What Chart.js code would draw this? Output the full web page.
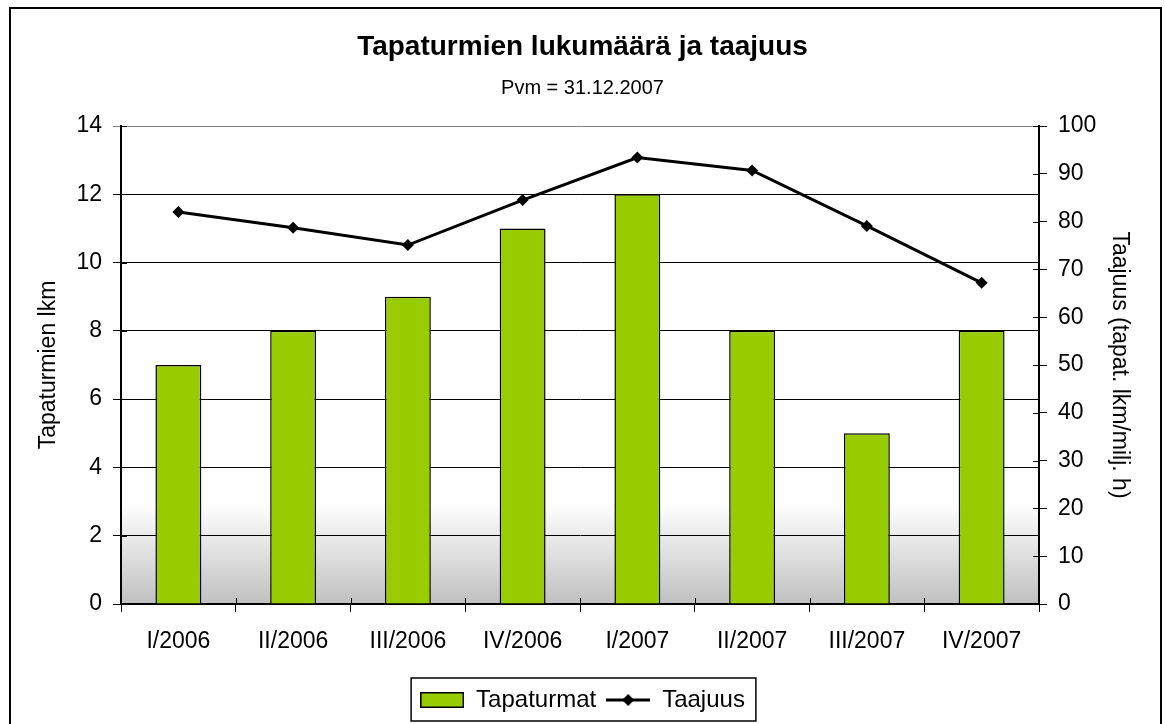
<!DOCTYPE html>
<html>
<head>
<meta charset="utf-8">
<script src="https://cdn.jsdelivr.net/npm/chart.js@4.4.0/dist/chart.umd.min.js"></script>
<style>
  body { margin: 0; background: #fff; }
</style>
</head>
<body>
<canvas id="accidentChart" width="1165" height="724"></canvas>
<script>
const quarters = ['I/2006', 'II/2006', 'III/2006', 'IV/2006', 'I/2007', 'II/2007', 'III/2007', 'IV/2007'];
const tapaturmat = [7, 8, 9, 11, 12, 8, 5, 8];
const taajuus = [82.0, 78.7, 75.1, 84.5, 93.4, 90.7, 79.1, 67.2];

const FONT = "'Liberation Sans', Arial, sans-serif";
const GREEN = '#99CC00';

// legend samples
function makeSwatch() {
    const c = document.createElement('canvas');
    c.width = 44; c.height = 16;
    const g = c.getContext('2d');
    g.fillStyle = GREEN;
    g.fillRect(0, 0, 44, 16);
    g.strokeStyle = '#000';
    g.lineWidth = 1.5;
    g.strokeRect(0.75, 0.75, 42.5, 14.5);
    return c;
}
function makeLineSample() {
    const c = document.createElement('canvas');
    c.width = 44; c.height = 14;
    const g = c.getContext('2d');
    g.strokeStyle = '#000';
    g.lineWidth = 3;
    g.beginPath(); g.moveTo(0, 7); g.lineTo(44, 7); g.stroke();
    g.fillStyle = '#000';
    g.beginPath(); g.moveTo(22, 1); g.lineTo(28, 7); g.lineTo(22, 13); g.lineTo(16, 7); g.closePath(); g.fill();
    return c;
}
const swatch = makeSwatch();
const lineSample = makeLineSample();

// plot background, legend frame, outer frame, inner halves of ticks
const decorPlugin = {
    id: 'decor',
    beforeDraw(chart) {
        const {ctx, chartArea: a} = chart;
        const grad = ctx.createLinearGradient(0, a.top, 0, a.bottom);
        grad.addColorStop(0, '#ffffff');
        grad.addColorStop(0.79, '#ffffff');
        grad.addColorStop(1, '#c0c0c0');
        ctx.save();
        ctx.fillStyle = grad;
        ctx.fillRect(a.left, a.top, a.right - a.left, a.bottom - a.top);
        ctx.restore();
    },
    afterDraw(chart) {
        const ctx = chart.ctx;
        const a = chart.chartArea;
        ctx.save();
        ctx.strokeStyle = '#000';
        ctx.lineWidth = 1;
        // inner tick halves
        const y = chart.scales.y, y1 = chart.scales.y1;
        ctx.beginPath();
        y.ticks.forEach((t, i) => {
            const p = Math.round(y.getPixelForTick(i)) + 0.5;
            ctx.moveTo(a.left, p); ctx.lineTo(a.left + 6, p);
        });
        y1.ticks.forEach((t, i) => {
            const p = Math.round(y1.getPixelForTick(i)) + 0.5;
            ctx.moveTo(a.right - 6, p); ctx.lineTo(a.right, p);
        });
        const w = (a.right - a.left) / quarters.length;
        for (let i = 0; i <= quarters.length; i++) {
            const p = Math.round(a.left + i * w) + 0.5;
            ctx.moveTo(p, a.bottom); ctx.lineTo(p, a.bottom - 6);
        }
        ctx.stroke();

        // legend frame
        const boxes = chart.legend.legendHitBoxes;
        if (boxes && boxes.length) {
            const first = boxes[0], last = boxes[boxes.length - 1];
            const l = first.left - 9, r = last.left + last.width + 11;
            ctx.lineWidth = 1.5;
            ctx.strokeRect(l, chart.legend.top, r - l, 43);
        }
        // outer frame
        ctx.lineWidth = 2;
        ctx.strokeRect(10, 8, 1151, 740);
        ctx.restore();
    }
};

const ctx = document.getElementById('accidentChart');
new Chart(ctx, {
    data: {
        labels: quarters,
        datasets: [{
            type: 'bar',
            label: 'Tapaturmat',
            data: tapaturmat,
            yAxisID: 'y',
            backgroundColor: GREEN,
            borderColor: '#000',
            borderWidth: 1.5,
            barPercentage: 0.4,
            categoryPercentage: 1,
            order: 1
        }, {
            type: 'line',
            label: 'Taajuus',
            data: taajuus,
            yAxisID: 'y1',
            borderColor: '#000',
            borderWidth: 3,
            backgroundColor: '#000',
            pointStyle: 'rectRot',
            pointRadius: 6,
            pointBackgroundColor: '#000',
            pointBorderWidth: 0,
            tension: 0,
            fill: false,
            order: 0
        }]
    },
    options: {
        responsive: false,
        animation: false,
        layout: { padding: { left: 0, right: 0, top: 0, bottom: 2 } },
        plugins: {
            tooltip: { enabled: false },
            title: {
                display: true,
                text: 'Tapaturmien lukumäärä ja taajuus',
                color: '#000',
                font: { family: FONT, size: 28, weight: 'bold' },
                padding: { top: 30, bottom: 0 }
            },
            subtitle: {
                display: true,
                text: 'Pvm = 31.12.2007',
                color: '#000',
                font: { family: FONT, size: 20 },
                padding: { top: 12.4, bottom: 26 }
            },
            legend: {
                position: 'bottom',
                labels: {
                    color: '#000',
                    font: { family: FONT, size: 24 },
                    usePointStyle: true,
                    pointStyleWidth: 44,
                    padding: 10,
                    generateLabels: function () {
                        return [
                            { text: 'Tapaturmat', pointStyle: swatch, datasetIndex: 0, fontColor: '#000', lineWidth: 0 },
                            { text: 'Taajuus', pointStyle: lineSample, datasetIndex: 1, fontColor: '#000', lineWidth: 0 }
                        ];
                    }
                }
            }
        },
        scales: {
            x: {
                offset: true,
                afterFit: function (scale) { scale.height = 74; },
                grid: { display: true, drawOnChartArea: false, drawTicks: true, tickLength: 8, color: '#000', offset: true },
                border: { color: '#000', width: 2 },
                ticks: { color: '#000', font: { family: FONT, size: 23 }, padding: 16, maxRotation: 0 }
            },
            y: {
                position: 'left',
                min: 0,
                max: 14,
                afterFit: function (scale) { scale.width = 121; },
                grid: {
                    color: function (c) { return c.index === 7 ? '#808080' : '#000'; },
                    lineWidth: 1,
                    tickLength: 8
                },
                border: { color: '#000', width: 2 },
                ticks: { stepSize: 2, color: '#000', font: { family: FONT, size: 23 }, padding: 11 },
                title: {
                    display: true,
                    text: 'Tapaturmien lkm',
                    color: '#000',
                    font: { family: FONT, size: 23 },
                    padding: { top: 35, bottom: 0 }
                }
            },
            y1: {
                position: 'right',
                min: 0,
                max: 100,
                afterFit: function (scale) { scale.width = 126; },
                grid: { drawOnChartArea: false, color: '#000', tickLength: 8 },
                border: { color: '#000', width: 2 },
                ticks: { stepSize: 10, color: '#000', font: { family: FONT, size: 23 }, padding: 11 },
                title: {
                    display: true,
                    text: 'Taajuus (tapat. lkm/milj. h)',
                    color: '#000',
                    font: { family: FONT, size: 23 },
                    padding: { top: 32, bottom: 0 }
                }
            }
        }
    },
    plugins: [decorPlugin]
});
</script>
</body>
</html>
